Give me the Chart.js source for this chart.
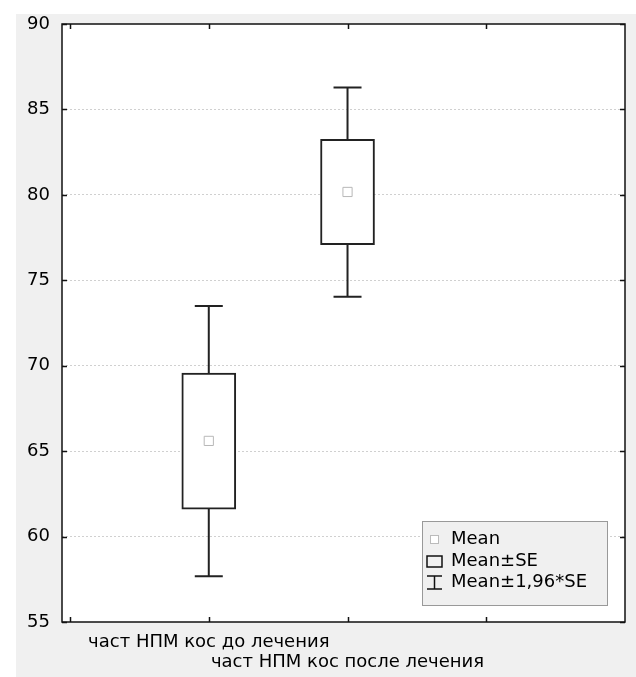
<!DOCTYPE html>
<html>
<head>
<meta charset="utf-8">
<script src="https://cdn.jsdelivr.net/npm/chart.js@4.4.0/dist/chart.umd.min.js"></script>
<style>
    html, body { margin: 0; padding: 0; background: #fff; }
    #obal { width: 636px; height: 677px; position: relative; }
</style>
</head>
<body>
<div id="obal"><canvas id="graf"></canvas></div>
<script>
// data
const skupiny = ['част НПМ кос до лечения', 'част НПМ кос после лечения'];
const poziceX = [1, 2];
const prumer = [65.6, 80.17];
const seDolni = [61.6, 77.08];
const seHorni = [69.57, 83.25];
const ciDolni = [57.68, 74.03];
const ciHorni = [73.49, 86.29];
const yTicks = [55, 60, 65, 70, 75, 80, 85, 90];
const xTicks = [0, 1, 2, 3];
const legenda = ['Mean', 'Mean±SE', 'Mean±1,96*SE'];

const pismo = '"DejaVu Sans", Arial, sans-serif';

// šedé pozadí kolem grafu
const pozadi = {
    id: 'pozadi',
    beforeDraw(chart) {
        const {ctx, chartArea: a} = chart;
        ctx.save();
        ctx.fillStyle = '#f0f0f0';
        ctx.fillRect(16, 14, chart.width - 16, chart.height - 14);
        ctx.fillStyle = '#fff';
        ctx.fillRect(a.left, a.top, a.right - a.left, a.bottom - a.top);
        ctx.restore();
    }
};

// vousy (Mean±1,96*SE)
const vousy = {
    id: 'vousy',
    beforeDatasetsDraw(chart) {
        const {ctx, scales: {x, y}} = chart;
        ctx.save();
        ctx.strokeStyle = '#222';
        ctx.lineWidth = 2;
        poziceX.forEach((px, i) => {
            const cx = x.getPixelForValue(px);
            const top = y.getPixelForValue(ciHorni[i]);
            const bot = y.getPixelForValue(ciDolni[i]);
            ctx.beginPath();
            ctx.moveTo(cx, top); ctx.lineTo(cx, bot);
            ctx.moveTo(cx - 14, top); ctx.lineTo(cx + 14, top);
            ctx.moveTo(cx - 14, bot); ctx.lineTo(cx + 14, bot);
            ctx.stroke();
        });
        ctx.restore();
    }
};

// rámeček a vnitřní značky os
const ramecek = {
    id: 'ramecek',
    afterDatasetsDraw(chart) {
        const {ctx, chartArea: a, scales: {x, y}} = chart;
        ctx.save();
        ctx.strokeStyle = '#111';
        ctx.lineWidth = 1.5;
        ctx.strokeRect(a.left, a.top, a.right - a.left, a.bottom - a.top);
        ctx.beginPath();
        xTicks.forEach(v => {
            const px = Math.round(x.getPixelForValue(v)) + 0.5;
            ctx.moveTo(px, a.bottom); ctx.lineTo(px, a.bottom - 5);
            ctx.moveTo(px, a.top); ctx.lineTo(px, a.top + 5);
        });
        yTicks.forEach(v => {
            const py = Math.round(y.getPixelForValue(v)) + 0.5;
            ctx.moveTo(a.left, py); ctx.lineTo(a.left + 5, py);
            ctx.moveTo(a.right, py); ctx.lineTo(a.right - 5, py);
        });
        ctx.stroke();
        ctx.restore();
    }
};

// legenda vpravo dole
const legendaBox = {
    id: 'legendaBox',
    afterDraw(chart) {
        const {ctx} = chart;
        ctx.save();
        ctx.fillStyle = '#f0f0f0';
        ctx.fillRect(422, 521, 185, 84);
        ctx.strokeStyle = '#999';
        ctx.lineWidth = 1;
        ctx.strokeRect(422.5, 521.5, 185, 84);

        // Mean
        ctx.fillStyle = '#fff';
        ctx.fillRect(430, 535, 8, 8);
        ctx.strokeStyle = '#bbb';
        ctx.strokeRect(430.5, 535.5, 8, 8);
        // Mean±SE
        ctx.strokeStyle = '#111';
        ctx.lineWidth = 1.5;
        ctx.strokeRect(427, 556, 15, 11);
        // Mean±1,96*SE
        ctx.beginPath();
        ctx.moveTo(427, 576); ctx.lineTo(442, 576);
        ctx.moveTo(434.5, 576); ctx.lineTo(434.5, 589);
        ctx.moveTo(427, 589); ctx.lineTo(442, 589);
        ctx.stroke();

        ctx.fillStyle = '#000';
        ctx.font = '18px ' + pismo;
        ctx.textBaseline = 'middle';
        ctx.fillText(legenda[0], 451, 539);
        ctx.fillText(legenda[1], 451, 561);
        ctx.fillText(legenda[2], 451, 582);
        ctx.restore();
    }
};

const ctx = document.getElementById('graf').getContext('2d');
new Chart(ctx, {
    type: 'bar',
    data: {
        datasets: [{
            type: 'bar',
            label: 'Mean±SE',
            data: poziceX.map((px, i) => ({x: px, y: [seDolni[i], seHorni[i]]})),
            backgroundColor: '#fff',
            borderColor: '#222',
            borderWidth: 2,
            borderSkipped: false,
            barThickness: 54,
            order: 2
        }, {
            type: 'scatter',
            label: 'Mean',
            data: poziceX.map((px, i) => ({x: px, y: prumer[i]})),
            pointStyle: 'rect',
            pointRadius: 6.5,
            backgroundColor: '#fff',
            borderColor: '#b8b8b8',
            borderWidth: 1,
            order: 1
        }]
    },
    options: {
        responsive: true,
        maintainAspectRatio: false,
        animation: false,
        layout: {
            padding: {left: 16, top: 24, right: 11, bottom: 0}
        },
        plugins: {
            legend: {display: false},
            tooltip: {enabled: false}
        },
        scales: {
            x: {
                type: 'linear',
                offset: false,
                min: -0.058,
                max: 4,
                grid: {display: false, drawTicks: false},
                border: {display: false},
                afterFit: s => { s.height = 55; },
                afterBuildTicks: s => { s.ticks = xTicks.map(v => ({value: v})); },
                ticks: {
                    autoSkip: false,
                    maxRotation: 0,
                    padding: 10,
                    color: '#000',
                    font: {family: pismo, size: 18, lineHeight: '20px'},
                    callback: v => {
                        if (v === 1) return skupiny[0];
                        if (v === 2) return ['', skupiny[1]];
                        return '';
                    }
                }
            },
            y: {
                min: 55,
                max: 90,
                afterFit: s => { s.width = 46; },
                afterBuildTicks: s => { s.ticks = yTicks.map(v => ({value: v})); },
                grid: {
                    drawTicks: false,
                    color: c => (c.tick && (c.tick.value === 55 || c.tick.value === 90)) ? 'rgba(0,0,0,0)' : '#d0d0d0',
                    lineWidth: 1
                },
                border: {display: false, dash: [2, 2]},
                ticks: {
                    padding: 12,
                    color: '#000',
                    font: {family: pismo, size: 18}
                }
            }
        }
    },
    plugins: [pozadi, vousy, ramecek, legendaBox]
});
</script>
</body>
</html>
